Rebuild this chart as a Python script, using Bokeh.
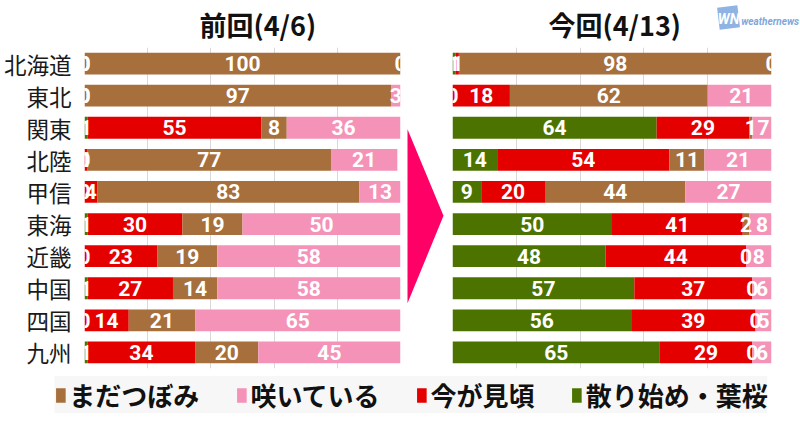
from bokeh.plotting import figure
from bokeh.layouts import row, column
from bokeh.models import (ColumnDataSource, Range1d, FactorRange, FixedTicker, Grid,
                          Legend, LegendItem)
from bokeh.core.properties import value
from bokeh.embed import file_html
from bokeh.resources import INLINE

# ---------------- data ----------------
regions = ["北海道", "東北", "関東", "北陸", "甲信", "東海", "近畿", "中国", "四国", "九州"]
stages = ["green", "red", "brown", "pink"]
stage_names = {"brown": "まだつぼみ", "pink": "咲いている", "red": "今が見頃", "green": "散り始め・葉桜"}
panel_titles = ["前回(4/6)", "今回(4/13)"]

prev_green = [0, 0, 1, 0, 0, 1, 0, 1, 0, 1]
prev_red = [0, 0, 55, 1, 4, 30, 23, 27, 14, 34]
prev_brown = [100, 97, 8, 77, 83, 19, 19, 14, 21, 20]
prev_pink = [0, 3, 36, 21, 13, 50, 58, 58, 65, 45]

cur_green = [1, 0, 64, 14, 9, 50, 48, 57, 56, 65]
cur_red = [1, 18, 29, 54, 20, 41, 44, 37, 39, 29]
cur_brown = [98, 62, 1, 11, 44, 2, 0, 0, 0, 0]
cur_pink = [0, 21, 7, 21, 27, 8, 8, 6, 5, 6]

grid_ticks = [0, 20, 40, 60, 80, 100]

colors = {"green": "#4C7300", "red": "#E50000", "brown": "#A66F3C", "pink": "#F592B8"}
JP = "Noto Sans CJK JP"

HEADER_H = 46
PANEL_H = 330


def panel(g, r, b, pk, width, border_left, border_right, show_labels):
    data = dict(region=regions, green=g, red=r, brown=b, pink=pk)
    src = ColumnDataSource(data)
    p = figure(width=width, height=PANEL_H,
               y_range=FactorRange(*reversed(regions)), x_range=Range1d(0, 100),
               output_backend="svg", toolbar_location=None,
               x_axis_location=None,
               y_axis_location="left" if show_labels else None,
               min_border_left=border_left, min_border_right=border_right,
               min_border_top=1, min_border_bottom=8)
    p.outline_line_color = None
    p.background_fill_color = "white"
    p.border_fill_color = "white"
    for gr in p.ygrid:
        gr.visible = False
    for gr in p.xgrid:
        gr.visible = False
    p.add_layout(Grid(dimension=0, ticker=FixedTicker(ticks=grid_ticks),
                      grid_line_color="#d9d9d9", grid_line_width=1))

    p.hbar_stack(stages, y="region", height=0.68, color=[colors[s] for s in stages],
                 line_color=None, source=src)

    # segment labels
    xs, ys, ts = [], [], []
    for i, reg in enumerate(regions):
        left = 0
        for s in stages:
            v = data[s][i]
            xs.append(left + v / 2)
            ys.append(reg)
            ts.append(str(v))
            left += v
    lsrc = ColumnDataSource(dict(x=xs, y=ys, t=ts))
    p.text(x="x", y="y", text="t", source=lsrc, text_color="white",
           text_font=value("Roboto"), text_font_style="bold", text_font_size="21px",
           text_align="center", text_baseline="middle")

    if show_labels:
        ax = p.yaxis[0]
        ax.axis_line_color = None
        ax.major_tick_line_color = None
        ax.minor_tick_line_color = None
        ax.major_label_standoff = 7
        ax.major_label_text_font = JP
        ax.major_label_text_font_size = "22.5px"
        ax.major_label_text_color = "#1a1a1a"
    return p


f1 = panel(prev_green, prev_red, prev_brown, prev_pink, 402, 81, 2, True)
f2 = panel(cur_green, cur_red, cur_brown, cur_pink, 350, 2, 29, False)

# header strip: panel titles + logo
hf = figure(width=800, height=HEADER_H, x_range=Range1d(0, 800), y_range=Range1d(HEADER_H, 0),
            output_backend="svg", toolbar_location=None, x_axis_location=None,
            y_axis_location=None, min_border=0)
hf.outline_line_color = None
hf.grid.visible = False
hf.text(x=[242, 609], y=[24, 24], text=panel_titles, text_font=value(JP),
        text_font_style="bold", text_font_size="27px", text_color="#111111",
        text_align="center", text_baseline="middle")
hf.rect(x=[726], y=[17], width=21, height=22, angle=0.12, fill_color="#8FB4E3",
        line_color=None)
hf.text(x=[726], y=[18], text=["WN"], text_font=value("Roboto"),
        text_font_style="bold italic", text_font_size="14px", text_color="white",
        text_align="center", text_baseline="middle")
hf.text(x=[739], y=[21], text=["weathernews"], text_font=value("Roboto"),
        text_font_style="bold italic", text_font_size="10px", text_color="#7FA7DC",
        text_align="left", text_baseline="middle")

# arrow between panels (decoration)
fa = figure(width=48, height=PANEL_H, x_range=Range1d(0, 48),
            y_range=Range1d(HEADER_H + PANEL_H, HEADER_H),
            output_backend="svg", toolbar_location=None, x_axis_location=None,
            y_axis_location=None, min_border=0)
fa.outline_line_color = None
fa.grid.visible = False
fa.patch([5, 5, 41], [130, 309, 219], color="#FF0066", line_color=None)

# legend strip
lf = figure(width=800, height=427 - HEADER_H - PANEL_H, x_range=Range1d(0, 1),
            y_range=Range1d(0, 1),
            output_backend="svg", toolbar_location=None, x_axis_location=None,
            y_axis_location=None, min_border=0, min_border_left=22)
lf.outline_line_color = None
lf.grid.visible = False
items = []
for s in ["brown", "pink", "red", "green"]:
    rr = lf.vbar(x=[-5], top=[-5], bottom=[-6], width=0.1, color=colors[s], line_color=None)
    items.append(LegendItem(label=stage_names[s], renderers=[rr]))
leg = Legend(items=items, orientation="horizontal", location="top_center",
             glyph_width=12, glyph_height=18, label_standoff=3, spacing=36,
             label_text_font=JP, label_text_font_size="26px", label_text_font_style="bold",
             label_text_color="#111111", border_line_color=None,
             background_fill_color="#f7f7f7", padding=4, margin=0)
lf.add_layout(leg, "center")

layout = column(hf, row(f1, fa, f2), lf)

open("out.html", "w").write(file_html(layout, INLINE))
